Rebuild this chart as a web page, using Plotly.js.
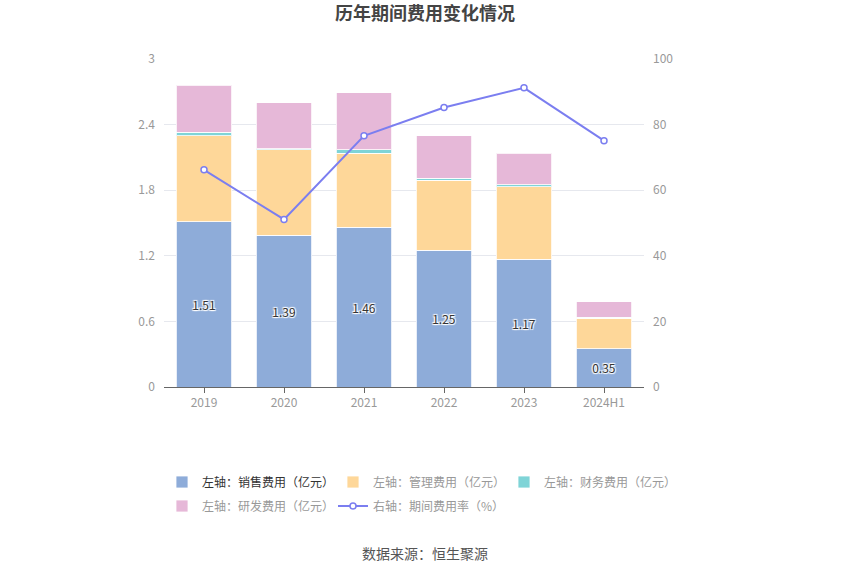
<!DOCTYPE html>
<html>
<head>
<meta charset="utf-8">
<script src="https://cdn.plot.ly/plotly-3.0.1.min.js"></script>
<style>html,body{margin:0;padding:0;background:#fff;}#chart{width:850px;height:575px;}</style>
</head>
<body>
<div id="chart"></div>
<script>
var years = ['2019', '2020', '2021', '2022', '2023', '2024H1'];
var sales = [1.51, 1.39, 1.46, 1.25, 1.17, 0.35];
var admin = [0.79, 0.78, 0.68, 0.64, 0.66, 0.28];
var finance = [0.03, 0.01, 0.03, 0.02, 0.02, 0.01];
var rnd = [0.43, 0.42, 0.52, 0.39, 0.29, 0.14];
var rate = [66.2, 51.1, 76.6, 85.2, 91.2, 75.1];

var FONT = '"Noto Sans CJK SC", "Noto Sans", sans-serif';
var shadow = '1px 1px 1px #fff, -1px -1px 1px #fff, 1px -1px 1px #fff, -1px 1px 1px #fff';

function barTrace(name, y, color, legend, txt) {
  var t = {
    type: 'bar', name: name, x: years, y: y, legend: legend,
    marker: {color: color, line: {color: 'rgba(255,255,255,0.8)', width: 1}},
    hoverinfo: 'none'
  };
  if (txt) {
    t.text = y.map(function (v) { return v.toFixed(2); });
    t.textposition = 'inside';
    t.insidetextanchor = 'middle';
    t.constraintext = 'none';
    t.textangle = 0;
    t.textfont = {color: '#333', size: 12, family: FONT, shadow: shadow};
  } else {
    t.textposition = 'none';
  }
  return t;
}

var data = [
  barTrace('<span style="color:#333">左轴：销售费用（亿元）</span>', sales, '#8eacd9', 'legend', true),
  barTrace('左轴：管理费用（亿元）', admin, '#fed799', 'legend', false),
  barTrace('左轴：财务费用（亿元）', finance, '#7fd4d7', 'legend', false),
  barTrace('左轴：研发费用（亿元）', rnd, '#e6b8d8', 'legend2', false),
  {
    type: 'scatter', mode: 'lines+markers', name: '右轴：期间费用率（%）',
    x: years, y: rate, yaxis: 'y2', legend: 'legend2',
    line: {color: '#7b7ef0', width: 2},
    marker: {symbol: 'circle', size: 6, color: '#fff', line: {color: '#7b7ef0', width: 1.5}},
    hoverinfo: 'none'
  }
];

var PL = 164, PW = 480, PT = 59, PH = 328;
function px2x(px) { return (px - PL) / PW; }
function px2y(py) { return (PT + PH - py) / PH; }

var legendCommon = {
  orientation: 'h', xref: 'paper', yref: 'paper',
  xanchor: 'left', yanchor: 'middle',
  font: {family: FONT, size: 12, color: '#999'},
  entrywidth: 126, entrywidthmode: 'pixels',
  bgcolor: 'rgba(0,0,0,0)', traceorder: 'normal', itemclick: false
};

var layout = {
  width: 850, height: 575,
  margin: {l: PL, r: 850 - PL - PW, t: PT, b: 575 - PT - PH},
  paper_bgcolor: '#fff', plot_bgcolor: '#fff',
  barmode: 'stack', bargap: 0.31,
  font: {family: FONT, color: '#999', size: 12},
  title: {text: '<b>历年期间费用变化情况</b>', x: 0.5, xref: 'container', xanchor: 'center', y: 1 - 14 / 575, yanchor: 'middle',
    font: {family: FONT, size: 18, color: '#444'}},
  xaxis: {
    type: 'category', showgrid: false, showline: true, linecolor: '#666', linewidth: 1,
    ticks: 'outside', ticklen: 5, tickcolor: '#666',
    tickfont: {size: 12, color: '#999', family: FONT}, fixedrange: true
  },
  yaxis: {
    range: [0, 3], tickvals: [0, 0.6, 1.2, 1.8, 2.4, 3], ticktext: ['0', '0.6', '1.2', '1.8', '2.4', '3'],
    showgrid: true, gridcolor: '#e6e8ee', zeroline: false, showline: false,
    ticks: '', ticklabelstandoff: 8,
    tickfont: {size: 12, color: '#999', family: FONT}, fixedrange: true
  },
  yaxis2: {
    overlaying: 'y', side: 'right', range: [0, 100], tickvals: [0, 20, 40, 60, 80, 100],
    showgrid: false, zeroline: false, showline: false, ticks: '', ticklabelstandoff: 8,
    tickfont: {size: 12, color: '#999', family: FONT}, fixedrange: true
  },
  legend: Object.assign({}, legendCommon, {x: px2x(162), y: px2y(482)}),
  legend2: Object.assign({}, legendCommon, {x: px2x(162), y: px2y(506)}),
  showlegend: true,
  annotations: [{
    text: '数据来源：恒生聚源', xref: 'paper', yref: 'paper',
    x: px2x(425), y: px2y(553), xanchor: 'center', yanchor: 'middle',
    showarrow: false, font: {family: FONT, size: 14, color: '#555'}
  }]
};

Plotly.newPlot('chart', data, layout, {displayModeBar: false, staticPlot: true});
</script>
</body>
</html>
